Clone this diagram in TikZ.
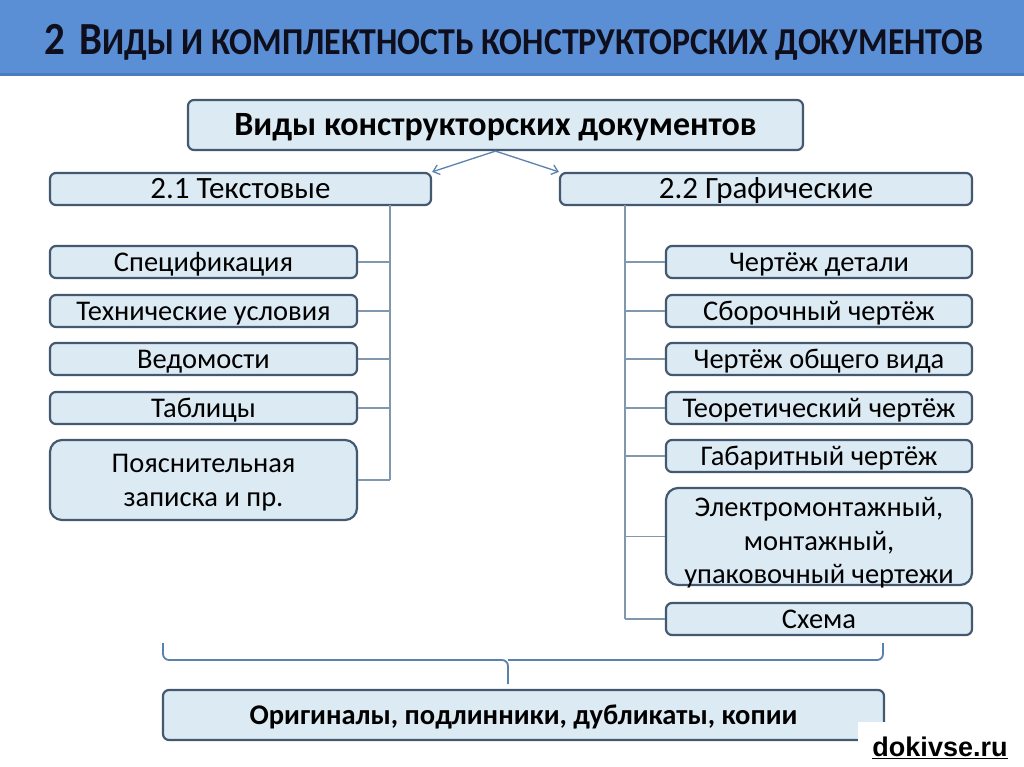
\documentclass[tikz,border=0pt]{standalone}
\usepackage{fontspec}
\setmainfont{Carlito}
\newfontfamily\wmfont{Liberation Sans}
\usetikzlibrary{arrows.meta}
\definecolor{bar}{HTML}{5A8ED5}
\definecolor{barshade}{HTML}{4A7CC0}
\definecolor{boxfill}{HTML}{DCEAF4}
\definecolor{boxdraw}{HTML}{44586F}
\definecolor{connc}{HTML}{8098AE}
\definecolor{arrc}{HTML}{5A82AD}
\definecolor{titletext}{HTML}{0E0E1C}
\begin{document}
\begin{tikzpicture}[x=1pt,y=-1pt,
  box/.style={draw=boxdraw, line width=2.2pt, fill=boxfill, rounded corners=6pt,
    inner sep=0pt, font=\fontsize{28.5}{34}\selectfont, align=center, text=black},
  onel/.style={text height=24pt, text depth=5.6pt},
  lbox/.style={box, onel, minimum width=307pt, minimum height=32pt},
  rbox/.style={box, onel, minimum width=306pt, minimum height=32pt},
  mlbox/.style={box, minimum width=307pt, rounded corners=12pt},
  mrbox/.style={box, minimum width=306pt, rounded corners=12pt},
  labtext/.style={inner sep=0pt, align=center, text=black, font=\fontsize{28.5}{33.5}\selectfont},
  hbox/.style={box, minimum height=32pt, text height=25pt, text depth=5pt, font=\fontsize{31}{34}\selectfont},
  connline/.style={draw=connc, line width=1.1pt},
  arrline/.style={draw=arrc, line width=1.3pt, -{Straight Barb[length=6pt,width=10pt]}},
  braceline/.style={draw=arrc, line width=1.8pt, rounded corners=6pt}]
\useasboundingbox (0,0) rectangle (1024,767);
\fill[white] (0,0) rectangle (1024,767);
\fill[bar] (0,0) rectangle (1024,75);
\fill[barshade] (0,73) rectangle (1024,76);
\node[font=\bfseries, text=titletext, inner sep=0pt] (title) at (514,42)
  {\scalebox{0.89}[1]{\fontsize{46}{48}\selectfont 2\hspace{0.35em}В\fontsize{38}{40}\selectfont ИДЫ И КОМПЛЕКТНОСТЬ КОНСТРУКТОРСКИХ ДОКУМЕНТОВ}};

% top box
\node[box, minimum width=615pt, minimum height=50pt, text height=28pt, text depth=6.1pt, font=\bfseries\fontsize{34}{36}\selectfont] (top) at (495.5,125) {Виды конструкторских документов};
% headers
\node[hbox, minimum width=381pt] (lh) at (240.5,189) {2.1 Текстовые};
\node[hbox, minimum width=412pt] (rh) at (766,189) {2.2 Графические};
\draw[arrline] (top.south) -- (lh.north east);
\draw[arrline] (top.south) -- (rh.north west);

% left boxes
\node[lbox] (l1) at (203.5,262) {Спецификация};
\node[lbox] (l2) at (203.5,311) {Технические условия};
\node[lbox] (l3) at (203.5,359) {Ведомости};
\node[lbox] (l4) at (203.5,408) {Таблицы};
\node[mlbox, minimum height=80pt] (l5) at (203.5,480) {\rule{0pt}{24.5pt}Пояснительная\\записка и пр.};

% right boxes
\node[rbox] (r1) at (819,262) {Чертёж детали};
\node[rbox] (r2) at (819,311) {Сборочный чертёж};
\node[rbox] (r3) at (819,359) {Чертёж общего вида};
\node[rbox] (r4) at (819,408) {Теоретический чертёж};
\node[rbox] (r5) at (819,456) {Габаритный чертёж};
\node[mrbox, minimum height=97pt] (r6) at (819,536.5) {};
\node[labtext] (r6t) at ([yshift=-6.5pt]r6.center) {Электромонтажный,\\монтажный,\\упаковочный чертежи};
\node[rbox] (r7) at (819,619) {Схема};

% trunks
\coordinate (ltop) at (390,205);
\coordinate (lbot) at (390,480);
\coordinate (rtop) at (625,205);
\coordinate (rbot) at (625,619);
\draw[connline] (ltop) -- (lbot);
\draw[connline] (rtop) -- (rbot);
\foreach \n in {l1,l2,l3,l4,l5} \draw[connline] (\n.east) -- (\n.east -| ltop);
\foreach \n in {r1,r2,r3,r4,r5,r6,r7} \draw[connline] (\n.west) -- (\n.west -| rtop);

% brace
\coordinate (bl) at (163,643);
\coordinate (br) at (883,643);
\coordinate (bm) at (508,660);
\coordinate (btip) at (508,684);
\draw[braceline] (bl) -- (bl |- bm) -- (bm) -- (btip);
\draw[braceline] (br) -- (br |- bm) -- (bm);

% bottom box
\node[box, minimum width=721pt, minimum height=50pt, text height=24pt, text depth=5.6pt, font=\bfseries\fontsize{28.5}{32}\selectfont] (bot) at (523.5,715) {Оригиналы, подлинники, дубликаты, копии};

% watermark
\fill[white] (858,722) rectangle (1024,767);
\node[font=\wmfont\bfseries\fontsize{27}{30}\selectfont, inner sep=0pt] (wm) at (940,748) {\underline{dokivse.ru}};
\end{tikzpicture}
\end{document}
